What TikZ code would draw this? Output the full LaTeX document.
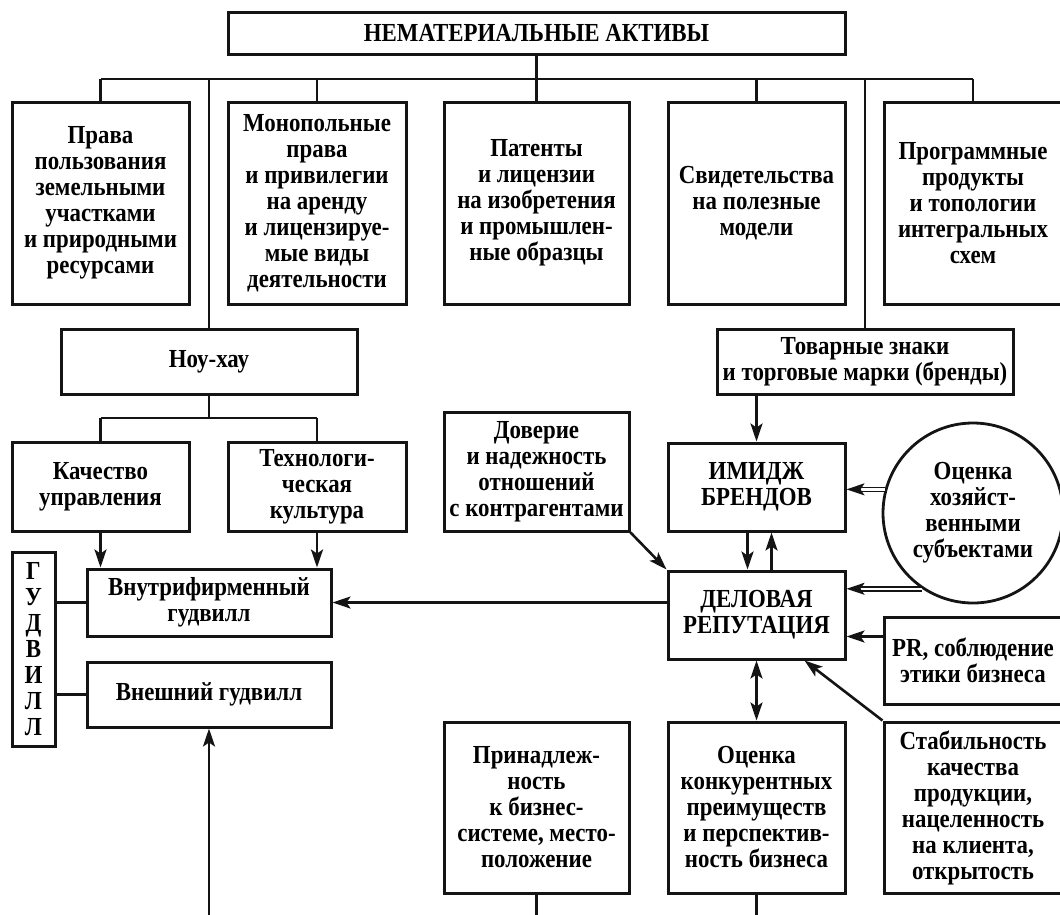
\documentclass[tikz,border=0pt]{standalone}
\usepackage{fontspec}
\setmainfont{Liberation Serif}[FakeStretch=0.88]
\usetikzlibrary{arrows.meta,calc,positioning,shapes}
\definecolor{my_black}{RGB}{20, 20, 20}
\tikzset{
  blk/.style = {rectangle, draw=my_black, line width=3pt, align=center, inner sep=0pt,
  text=black, font=\bfseries\fontsize{26}{26}\selectfont},
  blk_t/.style = {blk, minimum width=177pt, minimum height=202pt},
  blk_m/.style = {blk, minimum width=177pt, minimum height=88pt},
  blk_b/.style = {blk, minimum width=177pt, minimum height=171pt},
  blk_c/.style = {blk, circle, line width=2.8pt, minimum size=180pt},
  link/.style = {draw=my_black, line width=2.6pt},
  arr/.style = {link, -{Stealth[length=18pt,width=12pt,inset=4pt]}},
  arr_b/.style = {link, {Stealth[length=18pt,width=12pt,inset=4pt]}-{Stealth[length=18pt,width=12pt,inset=4pt]}},
  arr_d/.style = {draw=my_black, double, double distance=2.4pt, line width=1.6pt,
  -{Stealth[length=18pt,width=12pt,inset=4pt]}}
}

\begin{document}
\begin{tikzpicture}[x=1pt,y=-1pt]
    \useasboundingbox (0,0) rectangle (1060,914);
    \clip (0,0) rectangle (1060,914);
    % top level
    \node [blk, minimum width=617pt, minimum height=42pt] (top) at (536.5,33) {НЕМАТЕРИАЛЬНЫЕ АКТИВЫ};
    \node [blk_t] (b1) at (100.5,203) {Права\\пользования\\земельными\\участками\\и природными\\ресурсами};
    \node [blk_t, minimum width=178pt] (b2) at (317,203) {Монопольные\\права\\и привилегии\\на аренду\\и лицензируе-\\мые виды\\деятельности};
    \node [blk_t, minimum width=185pt] (b3) at (536.5,203) {Патенты\\и лицензии\\на изобретения\\и промышлен-\\ные образцы};
    \node [blk_t] (b4) at (756.5,203) {Свидетельства\\на полезные\\модели};
    \node [blk_t, minimum width=178pt] (b5) at (973,203) {Программные\\продукты\\и топологии\\интегральных\\схем};
    \node [blk, minimum width=296pt, minimum height=65pt] (know) at (209,361.5) {Ноу-хау};
    \node [blk, minimum width=296pt, minimum height=65pt] (tm) at (865,361.5) {Товарные знаки\\и торговые марки (бренды)};
    % left part
    \node [blk, minimum width=177pt, minimum height=89pt] (qual) at (100.5,486.5) {Качество\\управления};
    \node [blk, minimum width=178pt, minimum height=89pt] (tech) at (317,486.5) {Технологи-\\ческая\\культура};
    \node [blk, minimum width=244pt, minimum height=67pt] (inner) at (209,602.5) {Внутрифирменный\\гудвилл};
    \node [blk, minimum width=244pt, minimum height=65pt] (outer) at (209,694.5) {Внешний гудвилл};
    \node [blk, minimum width=43pt, minimum height=194pt] (gv) at (33.5,649) {Г\\У\\Д\\В\\И\\Л\\Л};
    % right part
    \node [blk, minimum width=185pt, minimum height=119pt] (trust) at (536.5,471.5) {Доверие\\и надежность\\отношений\\с контрагентами};
    \node [blk_m] (img) at (756.5,487) {ИМИДЖ\\БРЕНДОВ};
    \node [blk_c] (circ) at (973,513) {Оценка\\хозяйст-\\венными\\субъектами};
    \node [blk_m] (rep) at (756.5,615) {ДЕЛОВАЯ\\РЕПУТАЦИЯ};
    \node [blk, minimum width=178pt, minimum height=87pt] (pr) at (973,660.5) {PR, соблюдение\\этики бизнеса};
    \node [blk_b, minimum width=185pt] (belong) at (536.5,807.5) {Принадлеж-\\ность\\к бизнес-\\системе, место-\\положение};
    \node [blk_b] (comp) at (756.5,807.5) {Оценка\\конкурентных\\преимуществ\\и перспектив-\\ность бизнеса};
    \node [blk_b, minimum width=178pt] (stab) at (973,807.5) {Стабильность\\качества\\продукции,\\нацеленность\\на клиента,\\открытость};

    \coordinate (bus) at (0,79);
    \coordinate (bus2) at (0,418);
    \coordinate (foot) at (0,920);

    % tree lines
    \draw[link] (top.south) -- (top.south |- bus);
    \draw[link] (b1.north |- bus) -- (b5.north |- bus);
    \foreach \n in {b1,b2,b3,b4,b5,know,tm}
        \draw[link] (\n.north) -- (\n.north |- bus);
    \draw[link] (know.south) -- (know.south |- bus2);
    \draw[link] (qual.north |- bus2) -- (tech.north |- bus2);
    \draw[link] (qual.north) -- (qual.north |- bus2);
    \draw[link] (tech.north) -- (tech.north |- bus2);

    % goodwill
    \draw[arr] (qual.south) -- (qual.south |- inner.north);
    \draw[arr] (tech.south) -- (tech.south |- inner.north);
    \draw[link] (gv.east |- inner.west) -- (inner.west);
    \draw[link] (gv.east |- outer.west) -- (outer.west);
    \draw[arr] (rep.west |- inner.east) -- (inner.east);
    \draw[arr] (outer.south |- foot) -- (outer.south);

    % reputation
    \draw[arr] (img.north |- tm.south) -- (img.north);
    \draw[arr] ([xshift=-9pt]img.south) -- ([xshift=-9pt]rep.north);
    \draw[arr] ([xshift=15pt]rep.north) -- ([xshift=15pt]img.south);
    \draw[arr] (trust.south east) -- (rep.north west);
    \draw[arr_d] (circ.165) -- (circ.165 -| img.east);
    \draw[arr_d] (circ.236) -- (circ.236 -| rep.east);
    \draw[arr] ([yshift=24pt]pr.west) -- ([yshift=24pt]pr.west -| rep.east);
    \draw[arr] (stab.north west) -- ([xshift=48pt]rep.south);
    \draw[arr_b] (rep.south) -- (comp.north);
    \draw[link] (belong.south) -- (belong.south |- foot);
    \draw[link] (comp.south) -- (comp.south |- foot);
\end{tikzpicture}
\end{document}
